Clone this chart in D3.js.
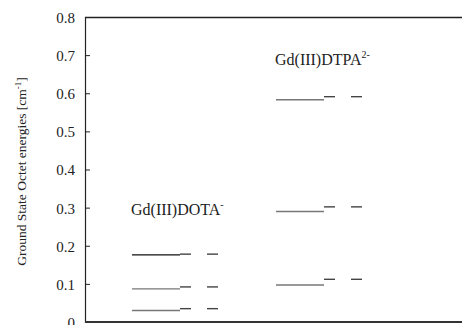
<!DOCTYPE html>
<html>
<head>
<meta charset="utf-8">
<script src="https://cdn.jsdelivr.net/npm/d3@7"></script>
<style>
  html, body { margin: 0; padding: 0; background: #fff; }
  svg { display: block; }
</style>
</head>
<body>
<svg id="chart" width="462" height="325"></svg>
<script>
// Ground-state octet splitting (cm^-1) for the two Gd(III) complexes.
const complexes = ["DOTA", "DTPA"];
const complexLabels = ["Gd(III)DOTA", "Gd(III)DTPA"];
const complexCharges = ["-", "2-"];
// Level columns per complex: calculated levels, then two sets of fitted levels.
const columns = ["calc", "fitA", "fitB"];
const dotaCalc = [0, 0.030, 0.087, 0.176];
const dotaFitA = [0, 0.035, 0.092, 0.178];
const dotaFitB = [0, 0.035, 0.092, 0.178];
const dtpaCalc = [0, 0.097, 0.290, 0.583];
const dtpaFitA = [0, 0.112, 0.302, 0.591];
const dtpaFitB = [0, 0.112, 0.302, 0.591];
const yTicks = [0, 0.1, 0.2, 0.3, 0.4, 0.5, 0.6, 0.7, 0.8];

const levelSets = {
  DOTA: { calc: dotaCalc, fitA: dotaFitA, fitB: dotaFitB },
  DTPA: { calc: dtpaCalc, fitA: dtpaFitA, fitB: dtpaFitB }
};

const FONT = '"Liberation Serif", "Times New Roman", serif';
const INK = "#222";

const svg = d3.select("#chart");
const margin = { left: 85, top: 17, bottom: 3 };
const H = 325;
const plotBottom = H - margin.bottom;

const y = d3.scaleLinear().domain([0, 0.8]).range([plotBottom, margin.top]);

// Each complex occupies a group slot; columns sit at fixed offsets within it.
const xGroup = d3.scalePoint().domain(complexes).range([132, 276]);
const colStart = d3.scaleOrdinal().domain(columns).range([0, 48, 75]);
const colWidth = d3.scaleOrdinal().domain(columns).range([48, 11, 11]);

// Frame: the top line runs across the whole width.
svg.append("line")
  .attr("x1", margin.left).attr("x2", 462)
  .attr("y1", margin.top + 0.5).attr("y2", margin.top + 0.5)
  .attr("stroke", INK).attr("stroke-width", 1.4);

// Y axis with inward ticks.
const yAxis = d3.axisRight(y)
  .tickValues(yTicks)
  .tickSize(5)
  .tickFormat(d => d === 0 ? "0" : d3.format(".1f")(d));
const gy = svg.append("g")
  .attr("transform", `translate(${margin.left},0)`)
  .call(yAxis)
  .attr("font-family", FONT);
gy.select(".domain").attr("stroke", INK).attr("stroke-width", 1.2);
gy.selectAll(".tick line").attr("stroke", INK);
gy.selectAll(".tick text")
  .attr("x", -10)
  .attr("dy", "0.36em")
  .attr("text-anchor", "end")
  .style("font-size", "15px")
  .style("fill", INK)
  .style("font-family", FONT);

// Energy levels.
complexes.forEach(c => {
  columns.forEach(col => {
    const vals = levelSets[c][col];
    svg.append("g").selectAll("line")
      .data(vals)
      .join("line")
      .attr("x1", xGroup(c) + colStart(col))
      .attr("x2", xGroup(c) + colStart(col) + colWidth(col))
      .attr("y1", d => y(d))
      .attr("y2", d => y(d))
      .attr("stroke", (d, i) => col === "calc" ? (c === "DOTA" && i === vals.length - 1 ? "#111" : "#777") : "#444")
      .attr("stroke-width", 1.4);
  });
});

// Bottom axis line.
svg.append("line")
  .attr("x1", margin.left).attr("x2", 462)
  .attr("y1", plotBottom).attr("y2", plotBottom)
  .attr("stroke", "#333").attr("stroke-width", 2);

// Complex labels with charge superscripts.
const labelY = [0.28, 0.675];
complexes.forEach((c, i) => {
  const t = svg.append("text")
    .attr("x", xGroup(c) - 1)
    .attr("y", y(labelY[i]))
    .style("font-family", FONT)
    .style("fill", INK)
    .style("font-size", "16px");
  t.append("tspan").text(complexLabels[i]);
  t.append("tspan")
    .attr("dy", -7)
    .style("font-size", "10px")
    .text(complexCharges[i]);
});

// Y axis title.
const title = svg.append("text")
  .attr("transform", `translate(26,${(margin.top + plotBottom) / 2 + 2}) rotate(-90)`)
  .attr("text-anchor", "middle")
  .style("font-family", FONT)
  .style("fill", INK)
  .style("font-size", "13.5px");
title.append("tspan").text("Ground State Octet energies [cm");
title.append("tspan").attr("dy", -5).style("font-size", "9px").text("-1");
title.append("tspan").attr("dy", 5).text("]");
</script>
</body>
</html>
